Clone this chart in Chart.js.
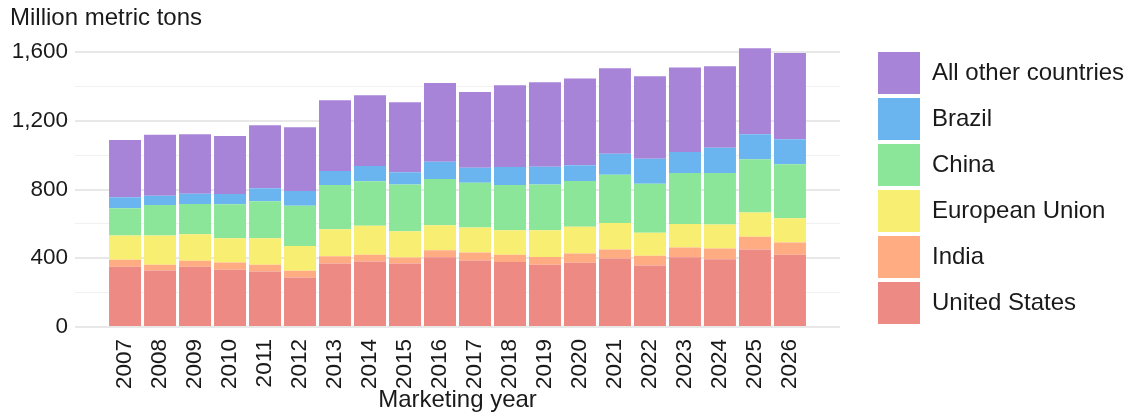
<!DOCTYPE html>
<html lang="en">
<head>
<meta charset="UTF-8">
<title>Million metric tons by marketing year</title>
<script src="https://cdn.jsdelivr.net/npm/chart.js@4.4.1/dist/chart.umd.min.js"></script>
<style>
  html, body { margin: 0; padding: 0; background: #fff; }
</style>
</head>
<body>
<canvas id="chart" width="1128" height="415"></canvas>
<script>
// values, million metric tons
const years = [2007, 2008, 2009, 2010, 2011, 2012, 2013, 2014, 2015, 2016,
               2017, 2018, 2019, 2020, 2021, 2022, 2023, 2024, 2025, 2026];
const unitedStates = [350, 329, 350, 333, 323, 288, 370, 381, 370, 406,
                      387, 379, 362, 374, 399, 358, 406, 395, 451, 420];
const india = [41, 33, 35, 42, 39, 39, 42, 39, 34, 41,
               47, 41, 46, 54, 52, 56, 57, 62, 75, 72];
const europeanUnion = [141, 170, 155, 142, 155, 145, 157, 170, 153, 145,
                       145, 143, 155, 155, 155, 134, 137, 139, 140, 141];
const china = [159, 178, 176, 197, 215, 234, 257, 258, 273, 269,
               261, 263, 267, 267, 280, 286, 296, 300, 311, 315];
const brazil = [64, 54, 60, 60, 75, 86, 82, 89, 70, 101,
                87, 105, 103, 92, 122, 145, 122, 147, 145, 145];
const allOther = [333, 355, 346, 337, 368, 371, 412, 412, 408, 458,
                  441, 476, 491, 504, 498, 480, 492, 474, 500, 502];
const yTicks = [0, 200, 400, 600, 800, 1000, 1200, 1400, 1600];

const textColor = '#1a1a1a';
const fontFamily = '"Liberation Sans", Arial, sans-serif';

const series = [
  { label: 'United States', data: unitedStates, color: '#ee8a84' },
  { label: 'India', data: india, color: '#ffac82' },
  { label: 'European Union', data: europeanUnion, color: '#f8ee72' },
  { label: 'China', data: china, color: '#8ce69a' },
  { label: 'Brazil', data: brazil, color: '#6ab4f0' },
  { label: 'All other countries', data: allOther, color: '#a884d8' }
];

new Chart(document.getElementById('chart'), {
  type: 'bar',
  data: {
    labels: years,
    datasets: series.map(s => ({
      label: s.label,
      data: s.data,
      backgroundColor: s.color,
      borderWidth: 0,
      barPercentage: 0.914,
      categoryPercentage: 1
    }))
  },
  options: {
    responsive: false,
    animation: false,
    layout: { padding: { left: 10, right: 4, top: 0, bottom: 0 } },
    font: { family: fontFamily },
    scales: {
      x: {
        type: 'linear',
        stacked: true,
        offset: false,
        min: 2005.57,
        max: 2027.43,
        afterBuildTicks: s => { s.ticks = years.map(v => ({ value: v })); },
        afterFit: s => { s.height = 88; },
        ticks: {
          autoSkip: false,
          minRotation: 90,
          maxRotation: 90,
          padding: 4,
          color: textColor,
          font: { size: 22.5, family: fontFamily },
          callback: v => String(v)
        },
        grid: { display: false },
        border: { display: false },
        title: {
          display: true,
          text: 'Marketing year',
          color: textColor,
          font: { size: 24, family: fontFamily },
          padding: 0
        }
      },
      y: {
        stacked: true,
        min: 0,
        max: 1660,
        afterBuildTicks: s => { s.ticks = yTicks.map(v => ({ value: v })); },
        afterFit: s => { s.width = 65; },
        ticks: {
          padding: 7,
          color: textColor,
          font: { size: 22.5, family: fontFamily },
          callback: v => (v % 400 === 0 ? v.toLocaleString('en-US') : '')
        },
        grid: {
          drawTicks: false,
          color: c => (c.tick && c.tick.value % 400 === 0 ? '#e8e8e8' : '#f1f1f1'),
          lineWidth: c => (c.tick && c.tick.value % 400 === 0 ? 2 : 1)
        },
        border: { display: false }
      },
      // empty axis, only keeps a gap between the plot and the legend
      gap: {
        type: 'linear',
        position: 'right',
        display: true,
        ticks: { display: false },
        grid: { display: false },
        border: { display: false },
        afterFit: s => { s.width = 34; }
      }
    },
    plugins: {
      title: {
        display: true,
        text: 'Million metric tons',
        align: 'start',
        color: textColor,
        font: { size: 24, weight: 'normal', family: fontFamily },
        padding: { top: 4, bottom: 9 }
      },
      legend: {
        position: 'right',
        align: 'start',
        reverse: true,
        maxWidth: 250,
        title: { display: true, text: '', font: { size: 10 }, padding: { top: 36, bottom: 0 } },
        labels: {
          boxWidth: 42,
          boxHeight: 42,
          padding: 4,
          color: textColor,
          font: { size: 24, family: fontFamily }
        }
      },
      tooltip: { enabled: false }
    }
  }
});
</script>
</body>
</html>
